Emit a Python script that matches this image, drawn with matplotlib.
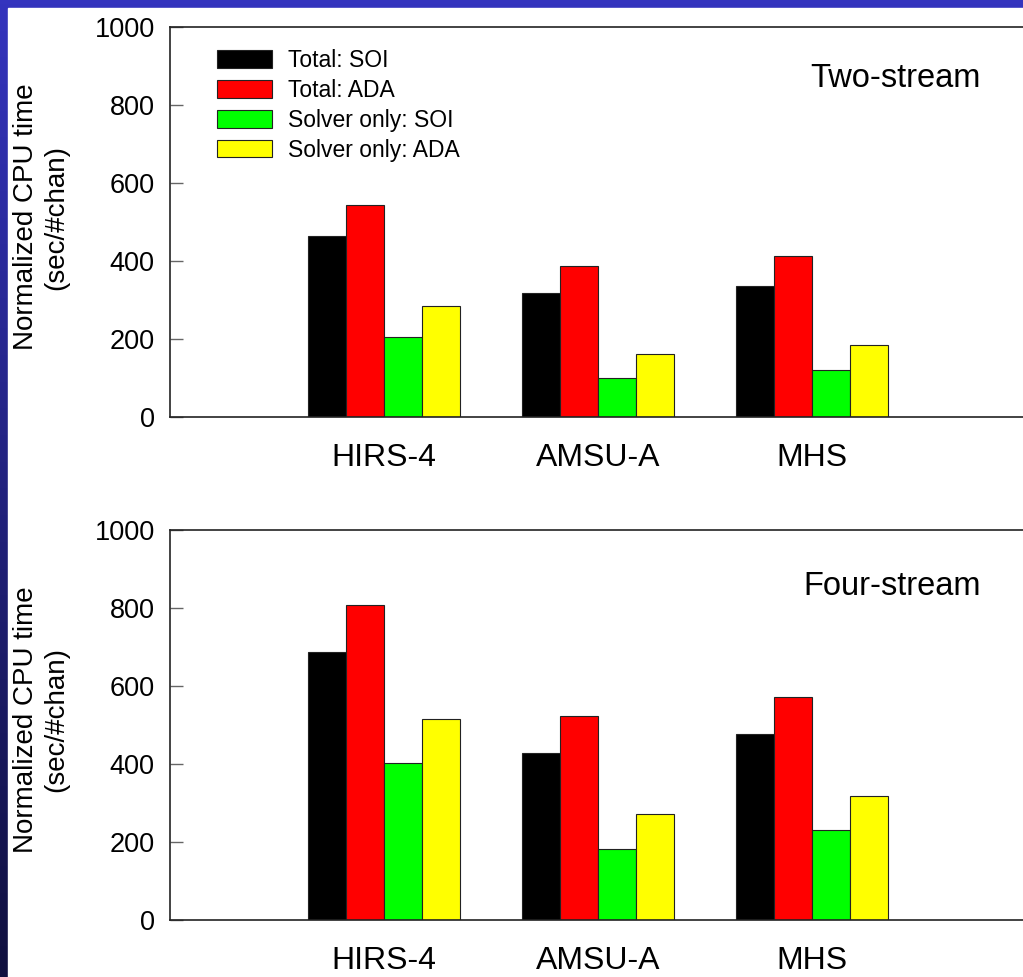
import numpy as np
import matplotlib
matplotlib.use("Agg")
import matplotlib.pyplot as plt
from matplotlib.patches import Rectangle

plt.rcParams['font.family'] = ['Liberation Sans', 'DejaVu Sans']

# CPU time per channel
instruments = ['HIRS-4', 'AMSU-A', 'MHS']
series = ['Total: SOI', 'Total: ADA', 'Solver only: SOI', 'Solver only: ADA']
colors = ['#000000', '#ff0000', '#00ff00', '#ffff00']

two_stream = [
    [465, 319, 337],   # total SOI
    [543, 388, 414],   # total ADA
    [205, 100, 120],   # solver SOI
    [285, 161, 184],   # solver ADA
]
four_stream = [
    [686, 427, 476],
    [807, 523, 571],
    [403, 182, 229],
    [516, 272, 318],
]
panel_titles = ['Two-stream', 'Four-stream']

W, H = 1023, 977
fig = plt.figure(figsize=(W / 100, H / 100), dpi=100)

# slide background: blue gradient strip on left and top
bg = fig.add_axes([0, 0, 1, 1])
grad = np.linspace(0, 1, 256)[:, None]
top_c = np.array([52, 52, 190]) / 255
bot_c = np.array([16, 16, 62]) / 255
img = top_c[None, None, :] * (1 - grad[:, :, None]) + bot_c[None, None, :] * grad[:, :, None]
bg.imshow(img, aspect='auto', extent=[0, 1, 0, 1])
bg.add_patch(Rectangle((8 / W, 0), 1, 1 - 8 / H, color='white', transform=bg.transAxes))
bg.set_xlim(0, 1)
bg.set_ylim(0, 1)
bg.axis('off')

x = np.arange(1, len(instruments) + 1)
w = 0.1776
offsets = (np.arange(4) - 1.5) * w

# axes boxes in pixels (left, top, bottom)
boxes = [(170, 27, 417), (170, 530, 919.5)]
right = 1026

for k, data in enumerate([two_stream, four_stream]):
    l, t, b = boxes[k]
    ax = fig.add_axes([l / W, 1 - b / H, (right - l) / W, (b - t) / H])
    for i in range(4):
        ax.bar(x + offsets[i], data[i], w, color=colors[i], edgecolor='#222222',
               linewidth=0.8, label=series[i], zorder=2)
    ax.set_xlim(0, 4)
    ax.set_ylim(0, 1000)
    ax.set_yticks([0, 200, 400, 600, 800, 1000])
    ax.set_xticks(x)
    ax.set_xticklabels(instruments, fontsize=23)
    ax.tick_params(axis='x', length=0, pad=19)
    ax.tick_params(axis='y', direction='in', length=9, width=1, color='#666666',
                   labelsize=19.5, pad=11)
    ax.spines['right'].set_visible(False)
    for s in ['left', 'bottom', 'top']:
        ax.spines[s].set_linewidth(1.2)
        ax.spines[s].set_color('#222222')
    ax.set_facecolor('none')
    ax.text(3.79, 846 if k == 0 else 833, panel_titles[k], fontsize=23.5,
            ha='right', va='baseline')
    fig.text(41.5 / W, 1 - ((t + b) / 2 - 5) / H,
             'Normalized CPU time\n(sec/#chan)', rotation=90, fontsize=20,
             ha='center', va='center', multialignment='center', linespacing=1.2)
    if k == 0:
        ax.legend(loc='upper left', bbox_to_anchor=((217 - l) / (right - l), 1 - (49 - t) / (b - t)),
                  frameon=False, fontsize=16.5, handlelength=2.4, handleheight=0.8,
                  handletextpad=0.68, labelspacing=0.3, borderpad=0, borderaxespad=0)

fig.savefig('out.png', dpi=100)
